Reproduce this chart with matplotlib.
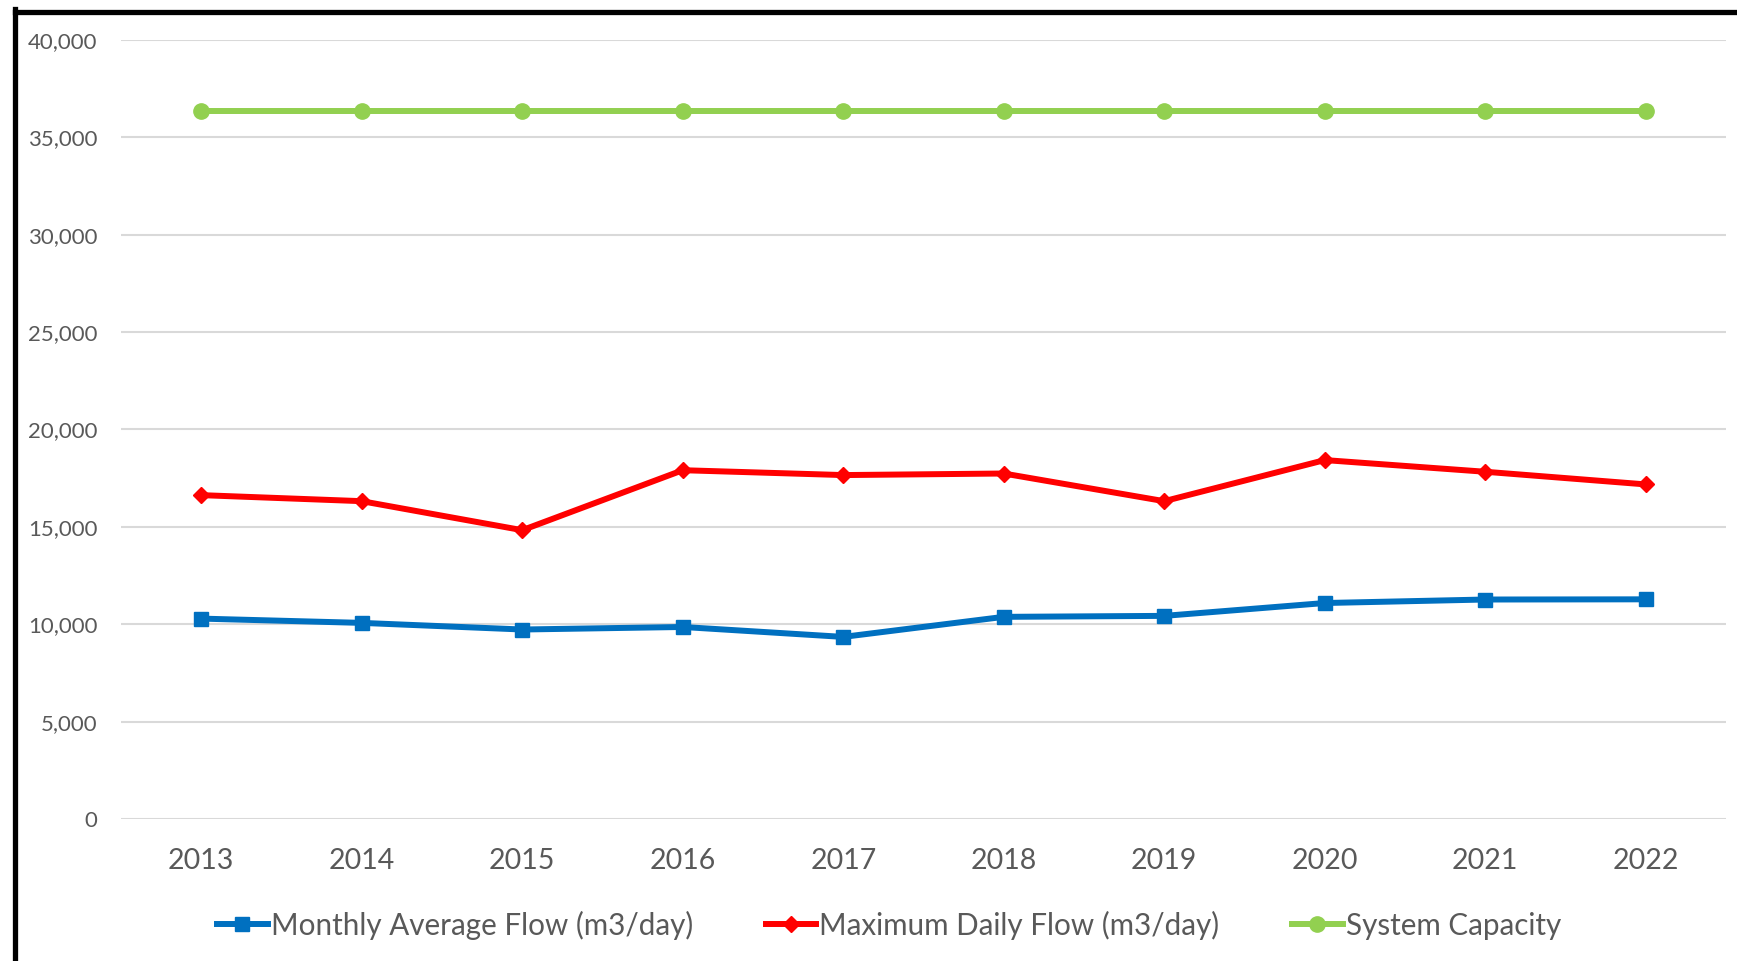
import matplotlib
matplotlib.use("Agg")
import matplotlib.pyplot as plt
from matplotlib.lines import Line2D

# Data
years = ["2013", "2014", "2015", "2016", "2017", "2018", "2019", "2020", "2021", "2022"]
monthly_avg = [10290, 10070, 9730, 9860, 9350, 10380, 10430, 11090, 11270, 11280]
max_daily = [16630, 16320, 14830, 17910, 17660, 17740, 16320, 18430, 17830, 17180]
capacity = [36370] * 10

plt.rcParams['font.family'] = ['Lato', 'DejaVu Sans']
text_color = '#595959'

fig = plt.figure(figsize=(17.37, 9.61), dpi=100)
W, H = 1737, 961
ax = fig.add_axes([121 / W, (H - 819) / H, (1726 - 121) / W, (819 - 40) / H])

x = range(len(years))
ax.plot(x, monthly_avg, color='#0070C0', lw=4.3, marker='s', ms=10.5,
        label='Monthly Average Flow (m3/day)')
ax.plot(x, max_daily, color='#FF0000', lw=4.3, marker='D', ms=8,
        label='Maximum Daily Flow (m3/day)')
ax.plot(x, capacity, color='#92D050', lw=4.3, marker='o', ms=11,
        label='System Capacity')

ax.set_xlim(-0.5, len(years) - 0.5)
ax.set_ylim(0, 40000)
ax.set_yticks(range(0, 40001, 5000))
ax.set_yticklabels([f"{v:,}" for v in range(0, 40001, 5000)])
ax.set_xticks(list(x))
ax.set_xticklabels(years)

ax.grid(axis='y', color='#d9d9d9', lw=1.5)
ax.set_axisbelow(True)
for s in ax.spines.values():
    s.set_visible(False)
ax.tick_params(axis='both', length=0, colors=text_color)
ax.tick_params(axis='y', labelsize=16, pad=17)
ax.tick_params(axis='x', labelsize=20.5, pad=21)

leg = ax.legend(loc='center', bbox_to_anchor=(889 / W, (H - 925) / H),
                bbox_transform=fig.transFigure, ncol=3, frameon=False,
                fontsize=21.3, handlelength=1.72, handletextpad=0.1,
                columnspacing=2.45)
for t in leg.get_texts():
    t.set_color(text_color)

# black frame on left and top edges
fig.add_artist(Line2D([14.5 / W, 14.5 / W], [0, 1 - 9 / H], color='black', lw=3.8,
                      transform=fig.transFigure, solid_capstyle='projecting'))
fig.add_artist(Line2D([14.5 / W, 1], [1 - 11.5 / H, 1 - 11.5 / H], color='black', lw=3.8,
                      transform=fig.transFigure, solid_capstyle='projecting'))

fig.savefig('out.png', dpi=100)
